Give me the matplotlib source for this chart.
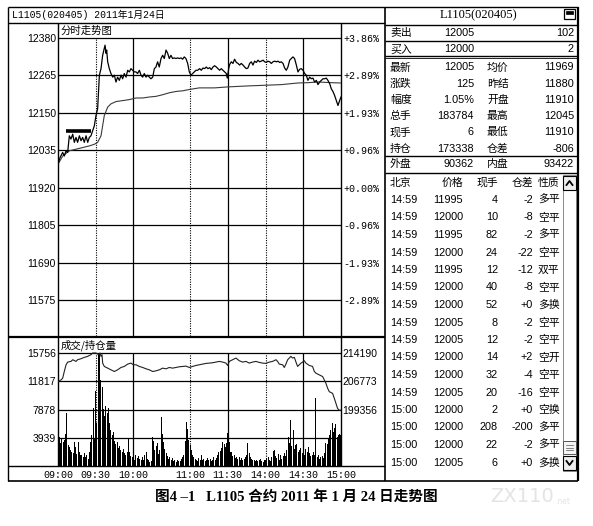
import matplotlib
matplotlib.use('Agg')
import matplotlib.pyplot as plt
import numpy as np

plt.rcParams['font.family'] = ['Noto Sans CJK SC', 'DejaVu Sans']

# ---- intraday data (minutes counted from 09:00, trading minutes only) ----
price_min = [0, 1.6, 3.7, 5.0, 6.4, 7.7, 9.0, 10.3, 11.7, 13.0,
             14.3, 15.6, 17.0, 18.3, 19.6, 20.9, 22.3, 23.6, 24.9, 26.2,
             27.6, 28.9, 30.2, 31.5, 32.9, 34.2, 35.5, 36.8, 37.4, 38.2,
             38.7, 39.5, 40.8, 42.1, 43.5, 44.8, 46.1, 47.4, 48.8, 50.1,
             51.4, 52.7, 54.1, 55.4, 56.7, 58.0, 59.4, 60.7, 62.0, 63.3,
             64.7, 66.0, 67.3, 68.6, 70.0, 71.3, 72.6, 73.9, 75.3, 76.6,
             77.9, 79.2, 80.5, 81.9, 83.2, 84.5, 85.9, 87.2, 88.5, 89.8,
             91.1, 92.5, 93.8, 95.1, 96.5, 97.8, 99.1, 100.4, 101.7, 103.1,
             104.4, 105.7, 107.0, 108.4, 109.7, 111.0,
             112.6, 113.9, 115.3, 116.6, 117.9, 119.2, 120.6, 121.9, 123.2, 124.5,
             125.9, 127.2, 128.5, 129.8, 131.2, 132.5, 133.8, 134.6, 135.7, 136.5,
             137.8, 139.1, 140.4, 141.8, 143.1, 144.4, 145.7, 147.1, 148.4, 149.7,
             151.0, 152.4, 153.7, 155.0, 156.3, 157.7, 159.0, 160.3, 161.6, 163.0,
             164.3, 165.6, 166.9, 168.3, 169.6, 170.9, 172.2, 173.6, 174.9, 176.2,
             177.5, 178.9, 180.2, 181.5, 182.8, 184.2, 185.5, 186.8, 188.1, 189.5,
             190.8, 192.1, 193.4, 194.8, 196.1, 197.4, 198.7, 200.1, 201.4, 202.7,
             204.0, 205.4, 206.7, 208.0, 209.3, 210.7, 212.0, 213.3, 214.6, 216.0,
             217.3, 218.6, 219.9, 221.3, 222.6, 223.9, 225]
price_val = [11993, 12013, 12029, 12018, 12034, 12029, 12080, 12070, 12085, 12060,
             12075, 12060, 12080, 12065, 12075, 12060, 12080, 12060, 12075, 12080,
             12096, 12111, 12142, 12163, 12266, 12286, 12327, 12348, 12358, 12333,
             12343, 12307, 12286, 12271, 12260, 12266, 12245, 12260, 12250, 12266,
             12255, 12271, 12260, 12281, 12276, 12286, 12281, 12276, 12276, 12271,
             12281, 12266, 12260, 12271, 12260, 12266, 12260, 12255, 12260, 12286,
             12291, 12307, 12291, 12317, 12327, 12317, 12343, 12333, 12317, 12327,
             12317, 12319, 12317, 12319, 12317, 12319, 12315, 12322, 12317, 12302,
             12276, 12266, 12271, 12276, 12281, 12281,
             12286, 12281, 12288, 12286, 12291, 12286, 12289, 12283, 12291, 12295,
             12291, 12286, 12281, 12286, 12281, 12276, 12271, 12257, 12286, 12299,
             12307, 12302, 12315, 12305, 12302, 12297, 12302, 12297, 12291, 12286,
             12288, 12302, 12307, 12297, 12309, 12305, 12312, 12307, 12309, 12312,
             12307, 12305, 12309, 12307, 12302, 12307, 12309, 12307, 12309, 12305,
             12307, 12302, 12288, 12281, 12291, 12312, 12317, 12322, 12317, 12297,
             12276, 12284, 12286, 12281, 12271, 12266, 12250, 12260, 12255, 12257,
             12245, 12250, 12237, 12245, 12250, 12255, 12255, 12257, 12250, 12240,
             12224, 12216, 12204, 12188, 12173, 12188, 12199]

avg_min = [0, 3.7, 9.0, 14.3, 19.6, 24.9, 28.9, 31.5, 34.2, 36.8, 39.5, 42.1,
           46.1, 51.4, 56.7, 62.0, 67.3, 72.6, 77.9, 83.2, 88.5, 93.8, 99.1,
           104.4, 112.3, 124.5, 135.1, 151.0, 164.3, 177.5, 190.8, 198.7,
           206.7, 217.3, 225]
avg_val = [11993, 12018, 12034, 12039, 12044, 12049, 12054, 12060, 12080, 12142,
           12168, 12178, 12185, 12188, 12191, 12196, 12196, 12199, 12201, 12206,
           12212, 12216, 12218, 12222, 12227, 12227, 12230, 12233, 12235, 12237,
           12242, 12243, 12245, 12243, 12242]

# marker bar drawn on the price chart
mark_min = [6.4, 26.2]
mark_price = 12094

# volume per minute, 09:00 .. 15:00
vol = [7250, 4100, 3200, 3900, 3400, 3600, 4400, 7400, 2900, 2600, 2200, 2000, 1800, 3400, 2600,
       1700, 3300, 1900, 1500, 1600, 1300, 1800, 1200, 1500, 1000, 2000, 3400, 4300, 8100, 3900,
       10400, 6000, 15760, 15760, 12000, 11000, 8000, 7000, 8300, 7400, 8100, 6000, 5000, 4300, 4800,
       3500, 3000, 3300, 2500, 2800, 2200, 2000, 2400, 1800, 1600, 2000, 3900, 1900, 1400, 1200,
       1300, 900, 1500, 1100, 1400, 1000, 800, 1300, 900, 1500, 1900, 1000, 800, 600, 700,
       4100, 3500, 2300, 2800, 3200, 1700, 2200, 6900, 4400, 3300, 2400, 1800, 1400, 1000, 1200,
       900, 1100, 700, 800, 600, 900, 700, 650, 1000, 1200, 1500, 3500, 6200, 5200, 3600,
       2900, 2300, 1600, 1200, 1000, 800, 700, 1100, 900, 1500, 900, 1000, 700, 800, 1100,
       900, 1000, 700, 850, 1200, 900, 1100, 1600, 1900, 2100, 2500, 3400, 3000, 2600, 3200,
       4600, 3300, 2000, 1900, 1400, 1600, 1100, 1300, 1000, 1200, 900, 1100, 800, 1000, 1300,
       1600, 3200, 1800, 1200, 1000, 900, 800, 700, 900, 650, 800, 1000, 700, 600, 800,
       900, 1100, 1300, 900, 700, 1200, 2100, 2300, 1400, 1100, 1700, 900, 1500, 1000, 1400,
       1800, 1400, 2200, 4100, 3200, 6400, 2800, 5000, 2400, 2900, 3000, 2000, 2200, 2500, 1800,
       2500, 1600, 2400, 2000, 2600, 1800, 1400, 1600, 1900, 1500, 9500, 1300, 1500, 1000, 1200,
       1400, 1100, 1800, 3200, 3000, 3700, 4300, 5000, 6000, 4800, 5300, 5800, 4000, 4300, 4500, 4300]

# open interest
oi_min = [0, 2.4, 3.7, 5.0, 6.4, 7.7, 10.3, 11.7, 14.3, 15.6,
          18.3, 20.9, 23.6, 26.2, 27.6, 30.2, 32.3, 33.4, 34.2, 35.0,
          35.5, 36.8, 39.5, 42.1, 44.8, 47.4, 50.1, 52.7, 55.4, 58.0,
          59.9, 62.0, 64.7, 67.3, 70.0, 72.6, 75.3, 77.9, 80.6, 83.2,
          85.9, 88.5, 91.1, 93.8, 96.4, 99.1, 101.7, 104.4, 107.0, 109.7,
          112.3, 115.0, 117.6, 120.3, 122.9, 125.6, 128.2, 130.9, 133.5, 134.9,
          136.2, 138.8, 141.5, 144.1, 146.8, 149.4, 152.1, 154.7, 157.4, 160.0,
          162.7, 165.3, 168.0, 170.6, 173.3, 174.6, 175.9, 178.6, 179.9, 181.2,
          182.6, 183.9, 185.2, 186.5, 187.9, 189.2, 190.5, 191.8, 193.2, 194.5,
          195.8, 197.1, 199.8, 202.4, 203.8, 205.1, 207.7, 210.4, 213.0, 214.4,
          215.7, 218.3, 219.7, 221.0, 222.3, 223.6, 225]
oi_val = [206684, 207126, 207567, 209333, 211099, 211806, 211982, 212424, 211982, 212424,
          212689, 213042, 213307, 213748, 214190, 214190, 213748, 214190, 213307, 213748,
          211541, 210658, 210216, 209775, 209333, 209775, 210393, 210658, 211276, 211541,
          211099, 211099, 210658, 210393, 210040, 209775, 209333, 209510, 209775, 210216,
          210040, 210393, 210216, 210393, 210570, 210658, 210746, 210393, 210658, 210923,
          211099, 211276, 211453, 211541, 211629, 211806, 211982, 211806, 211541, 210923,
          211982, 212424, 212865, 212159, 211806, 211982, 211541, 211806, 211982, 211718,
          211541, 211453, 211806, 211982, 212424, 211982, 211276, 211099, 210393, 211276,
          212424, 212865, 213307, 212865, 213042, 211806, 210658, 211099, 211541, 211806,
          212159, 211541, 210923, 210658, 209333, 208892, 208450, 208009, 206243, 204918,
          204035, 203594, 202269, 200945, 199620, 199179, 199179]

price_ticks = [12380, 12265, 12150, 12035, 11920, 11805, 11690, 11575]
pct_labels = ['+3.86%', '+2.89%', '+1.93%', '+0.96%', '+0.00%', '-0.96%', '-1.93%', '-2.89%']
vol_ticks = [15756, 11817, 7878, 3939]
oi_ticks = [214190, 206773, 199356]
time_pos = [0, 30, 60, 105, 135, 165, 195, 225]
time_labels = ['09:00', '09:30', '10:00', '11:00', '11:30', '14:00', '14:30', '15:00']
solid_min = [60, 135, 195]
dotted_min = [30, 105, 165]

# ---- quote panel ----
quote_title = 'L1105(020405)'
ask = ['卖出', '12005', '102']
bid = ['买入', '12000', '2']
stat_names1 = ['最新', '涨跌', '幅度', '总手', '现手', '持仓']
stat_vals1 = ['12005', '125', '1.05%', '183784', '6', '173338']
stat_names2 = ['均价', '昨结', '开盘', '最高', '最低', '仓差']
stat_vals2 = ['11969', '11880', '11910', '12045', '11910', '-806']
outer = ['外盘', '90362', '内盘', '93422']
tick_header = ['北京', '价格', '现手', '仓差', '性质']
tick_time = ['14:59'] * 12 + ['15:00'] * 4
tick_price = ['11995', '12000', '11995', '12000', '11995', '12000', '12000', '12005',
              '12005', '12000', '12000', '12005', '12000', '12000', '12000', '12005']
tick_qty = ['4', '10', '82', '24', '12', '40', '52', '8', '12', '14', '32', '20', '2', '208', '22', '6']
tick_oi = ['-2', '-8', '-2', '-22', '-12', '-8', '+0', '-2', '-2', '+2', '-4', '-16', '+0', '-200', '-2', '+0']
tick_kind = ['多平', '空平', '多平', '空平', '双平', '空平', '多换', '空平',
             '空平', '空开', '空平', '空平', '空换', '多平', '多平', '多换']

W, H = 593, 526
fig = plt.figure(figsize=(W / 100, H / 100), dpi=100)
fig.patch.set_facecolor('white')

bg = fig.add_axes([0, 0, 1, 1])
bg.set_xlim(0, W)
bg.set_ylim(H, 0)
bg.axis('off')


def box(x0, y0, x1, y1):
    return [x0 / W, 1 - y1 / H, (x1 - x0) / W, (y1 - y0) / H]


num_font = ['Liberation Sans', 'Noto Sans CJK SC']
mono_font = ['Liberation Mono', 'Noto Sans CJK SC']
cjk = ['Noto Sans CJK SC', 'DejaVu Sans']
K = 'black'

# ---- frame lines ----
def hl(y, x0, x1, lw=1.0):
    bg.plot([x0, x1], [y, y], color=K, lw=lw, solid_capstyle='butt')


def vl(x, y0, y1, lw=1.0):
    bg.plot([x, x], [y0, y1], color=K, lw=lw, solid_capstyle='butt')


hl(7, 8, 578)
hl(23, 8, 385)
hl(336.5, 8, 385, 1.6)
hl(466, 8, 385)
hl(481, 8, 578, 1.2)
vl(8, 7, 481)
vl(385, 7, 481, 1.2)
vl(578, 7, 481, 1.6)
vl(58, 23, 466)
vl(341, 23, 466)

bg.text(12, 15, 'L1105(020405) 2011年1月24日', family=mono_font, fontsize=7,
        va='center', ha='left')
bg.text(61, 30.5, '分时走势图', family=cjk, fontsize=7.5, va='center', ha='left')
bg.text(61, 345.5, '成交/持仓量', family=cjk, fontsize=7.5, va='center', ha='left')

# ---- price chart ----
ax = fig.add_axes(box(58, 23, 341, 336))
ax.patch.set_alpha(0)
ax.set_xlim(0, 225)
ax.set_ylim(11466, 12426)
for s in ax.spines.values():
    s.set_visible(False)
ax.hlines(price_ticks, 0, 225, color=K, lw=0.9)
ax.vlines(solid_min, 11466, price_ticks[0], color=K, lw=0.9)
ax.vlines(dotted_min, 11466, price_ticks[0], color=K, lw=0.8, linestyles=(0, (1, 1.2)))
ax.plot(avg_min, avg_val, color='#3a3a3a', lw=0.8)
ax.plot(price_min, price_val, color=K, lw=0.9)
ax.hlines(mark_price, mark_min[0], mark_min[1], color=K, lw=2.6)
ax.set_xticks([])
ax.set_yticks(price_ticks)
ax.set_yticklabels([str(p) for p in price_ticks], family=num_font, fontsize=7.5)
ax.tick_params(axis='y', length=0, pad=1.5)
axr = ax.twinx()
axr.set_ylim(ax.get_ylim())
for s in axr.spines.values():
    s.set_visible(False)
axr.set_yticks(price_ticks)
axr.set_yticklabels(pct_labels, family=mono_font, fontsize=7.2)
axr.tick_params(axis='y', length=0, pad=1.5)

# ---- volume / open interest chart ----
vol_top = vol_ticks[0] + 15 * vol_ticks[-1] / 28.25
axv = fig.add_axes(box(58, 338, 341, 466))
axv.patch.set_alpha(0)
axv.set_xlim(0, 225)
axv.set_ylim(0, vol_top)
for s in axv.spines.values():
    s.set_visible(False)
axv.bar(np.arange(len(vol)), vol, width=0.8, color=K, linewidth=0)
axv.hlines(vol_ticks, 0, 225, color=K, lw=0.9)
axv.vlines(solid_min, 0, vol_ticks[0], color=K, lw=0.9)
axv.vlines(dotted_min, 0, vol_ticks[0], color=K, lw=0.8, linestyles=(0, (1, 1.2)))
axv.set_yticks(vol_ticks)
axv.set_yticklabels([str(v) for v in vol_ticks], family=num_font, fontsize=7.5)
axv.tick_params(axis='y', length=0, pad=1.5)
axv.set_xticks(time_pos)
axv.set_xticklabels(time_labels, family=mono_font, fontsize=7.2)
axv.tick_params(axis='x', length=0, pad=3)

oi_scale = (oi_ticks[0] - oi_ticks[-1]) / (vol_ticks[0] - vol_ticks[2])
oi_lo = oi_ticks[-1] - vol_ticks[2] * oi_scale
oi_hi = oi_lo + vol_top * oi_scale
axo = axv.twinx()
axo.set_ylim(oi_lo, oi_hi)
for s in axo.spines.values():
    s.set_visible(False)
axo.plot(oi_min, oi_val, color='#222222', lw=0.8)
axo.set_yticks(oi_ticks)
axo.set_yticklabels([str(v) for v in oi_ticks], family=num_font, fontsize=7.5)
axo.tick_params(axis='y', length=0, pad=1)

# ---- quote panel ----
bg.text(478, 15.5, quote_title, family=['Liberation Serif', 'Noto Sans CJK SC'],
        fontsize=9, ha='center', va='center')
bg.add_patch(plt.Rectangle((564, 9), 11, 10, fill=False, ec=K, lw=0.9))
bg.add_patch(plt.Rectangle((566, 11), 7, 3, fc=K, ec=K, lw=0.5))
for y in [24.5, 40.5]:
    hl(y, 385, 578)
hl(56, 385, 578)
hl(58, 385, 578, 0.6)
hl(155.5, 385, 578)
hl(172.5, 385, 578)

lab_fs = 7.8
for row, y in [(ask, 33), (bid, 49.5)]:
    bg.text(390, y, row[0], family=cjk, fontsize=lab_fs, va='center')
    bg.text(474, y, row[1], family=num_font, fontsize=lab_fs, va='center', ha='right')
    bg.text(574, y, row[2], family=num_font, fontsize=lab_fs, va='center', ha='right')

for i in range(len(stat_names1)):
    y = 67.5 + i * 16.2
    bg.text(390, y, stat_names1[i], family=cjk, fontsize=lab_fs, va='center')
    bg.text(474, y, stat_vals1[i], family=num_font, fontsize=lab_fs, va='center', ha='right')
    bg.text(487, y, stat_names2[i], family=cjk, fontsize=lab_fs, va='center')
    bg.text(574, y, stat_vals2[i], family=num_font, fontsize=lab_fs, va='center', ha='right')

bg.text(390, 164, outer[0], family=cjk, fontsize=lab_fs, va='center')
bg.text(474, 164, outer[1], family=num_font, fontsize=lab_fs, va='center', ha='right')
bg.text(487, 164, outer[2], family=cjk, fontsize=lab_fs, va='center')
bg.text(574, 164, outer[3], family=num_font, fontsize=lab_fs, va='center', ha='right')

# tick list
hdr_y = 183
bg.text(390, hdr_y, tick_header[0], family=cjk, fontsize=lab_fs, va='center')
bg.text(463, hdr_y, tick_header[1], family=cjk, fontsize=lab_fs, va='center', ha='right')
bg.text(498, hdr_y, tick_header[2], family=cjk, fontsize=lab_fs, va='center', ha='right')
bg.text(533, hdr_y, tick_header[3], family=cjk, fontsize=lab_fs, va='center', ha='right')
bg.text(538, hdr_y, tick_header[4], family=cjk, fontsize=lab_fs, va='center')
for i in range(len(tick_time)):
    y = 200 + i * 17.5
    bg.text(390, y, tick_time[i], family=num_font, fontsize=lab_fs, va='center')
    bg.text(463, y, tick_price[i], family=num_font, fontsize=lab_fs, va='center', ha='right')
    bg.text(498, y, tick_qty[i], family=num_font, fontsize=lab_fs, va='center', ha='right')
    bg.text(533, y, tick_oi[i], family=num_font, fontsize=lab_fs, va='center', ha='right')
    bg.text(538, y, tick_kind[i], family=cjk, fontsize=lab_fs, va='center')

# scrollbar
bg.add_patch(plt.Rectangle((563, 175), 13, 296, fill=False, ec='#777777', lw=0.6))
bg.add_patch(plt.Rectangle((563, 176), 13, 14, fc='#eeeeee', ec=K, lw=0.8))
bg.add_patch(plt.Rectangle((563, 456), 13, 14, fc='#eeeeee', ec=K, lw=0.8))
bg.add_patch(plt.Rectangle((563, 441), 13, 13, fc='#f4f4f4', ec='#555555', lw=0.7))
bg.plot([566.5, 569.5, 572.5], [185, 181, 185], color=K, lw=1.3)
bg.plot([566.5, 569.5, 572.5], [461, 465, 461], color=K, lw=1.3)
for y in [445, 447.5, 450]:
    bg.plot([566, 573], [y, y], color='#555555', lw=0.5)

# ---- caption ----
bg.text(296, 497, '图4 –1   L1105 合约 2011 年 1 月 24 日走势图',
        family=['Liberation Serif', 'Noto Sans CJK SC'], fontsize=10.5,
        weight='bold', ha='center', va='center')
bg.text(490, 497, 'ZX110', family=['DejaVu Sans'], fontsize=14, color='#e4e4e4',
        ha='left', va='center')
bg.text(555, 501, '.net', family=['DejaVu Sans'], fontsize=5.5, color='#e4e4e4',
        ha='left', va='center')

fig.savefig('out.png', dpi=100, facecolor='white')
